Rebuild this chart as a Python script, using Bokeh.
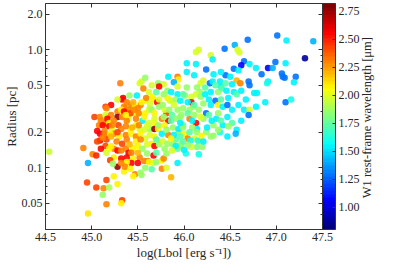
import math
from bokeh.plotting import figure
from bokeh.models import (Range1d, LinearColorMapper, ColorBar, FixedTicker, LinearAxis,
                          LogAxis, CustomJSTickFormatter, ColumnDataSource)
from bokeh.embed import file_html
from bokeh.resources import INLINE

# ---------------- data ----------------
log_lbol = [
    47.40, 47.01, 47.11, 46.69, 47.31, 46.44, 46.55, 46.58, 46.60, 46.16,
    46.13, 46.29, 46.31, 46.65, 46.62, 46.71, 46.54, 46.59, 46.57, 46.61,
    46.70, 46.71, 46.45, 46.40, 46.32, 46.24, 46.13, 46.03, 46.03, 46.11,
    46.21, 46.18, 46.28, 46.31, 46.39, 46.40, 46.52, 46.14, 46.17, 46.13,
    46.08, 46.18, 46.23, 46.29, 46.37, 46.41, 46.34, 46.37, 46.42, 46.47,
    46.52, 46.59, 46.65, 46.71, 46.67, 46.76, 46.70, 46.24, 46.29, 46.21,
    46.10, 46.03, 46.01, 46.08, 46.06, 46.13, 46.06, 46.16, 46.35, 46.42,
    46.57, 46.32, 46.21, 46.14, 46.99, 47.10, 46.91, 46.96, 46.78, 46.84,
    47.06, 47.07, 47.09, 47.21, 47.19, 46.91, 46.90, 46.79, 46.88, 47.10,
    47.16, 46.78, 46.54, 46.47, 46.56, 46.11, 46.16, 46.20, 46.14, 46.16,
    46.29, 46.32, 46.39, 46.01, 46.04, 46.07, 46.15, 46.08, 46.02, 46.14,
    46.24, 46.27, 46.37, 46.47, 46.52, 46.62, 46.40, 46.48, 46.57, 46.62,
    46.45, 46.50, 46.23, 45.96, 45.99, 46.09, 46.25, 46.37, 46.19, 45.94,
    45.91, 45.97, 45.31, 45.33, 45.21, 45.15, 45.16, 45.03, 45.09, 45.28,
    45.37, 45.42, 45.45, 45.53, 45.58, 45.67, 45.71, 45.84, 45.93, 45.52,
    45.54, 45.56, 45.58, 45.65, 45.72, 45.78, 45.83, 45.93, 45.94, 45.89,
    45.63, 45.81, 45.73, 45.50, 45.17, 45.40, 45.73, 45.82, 45.86, 45.93,
    45.34, 45.28, 45.41, 45.49, 45.59, 45.66, 45.73, 45.82, 45.85,
    45.91, 45.96, 45.54, 45.35, 45.43, 45.47, 45.50, 45.40, 45.32, 45.35,
    45.28, 45.33, 45.42, 45.46, 45.51, 45.58, 45.62, 45.65, 45.68, 45.79,
    45.84, 45.87, 45.93, 45.99, 45.97, 45.92, 45.76, 45.83, 45.79, 45.55,
    45.62, 45.68, 45.38, 45.48, 45.29, 45.32, 45.42, 45.52, 45.57, 45.63,
    45.68, 45.72, 45.88, 45.94, 45.99, 45.15, 45.21, 45.10, 45.14, 45.17,
    45.08, 45.12, 45.19, 45.19, 45.06, 45.14, 45.22, 45.24, 45.30, 45.37,
    45.43, 45.48, 45.53, 45.58, 45.63, 45.68, 45.76, 45.83, 45.89, 45.96,
    45.24, 45.28, 45.32, 45.37, 45.40, 45.45, 45.50, 45.55, 45.60, 45.65,
    45.68, 45.73, 45.79, 45.88, 45.93, 45.96, 46.00, 45.24, 45.32, 45.38,
    45.45, 45.52, 45.57, 45.61, 45.50, 45.67, 45.70, 45.76, 45.93, 45.28,
    45.35, 45.47, 45.53, 45.54, 45.76, 45.86, 45.24, 45.33, 45.32, 45.09,
    45.14, 45.17, 45.20, 45.16, 45.09, 45.15, 45.21, 45.19, 45.10, 45.16,
    45.20, 45.23, 44.91, 45.01, 45.05, 44.96, 44.95, 45.05, 45.13, 45.19,
    45.16, 45.12, 45.16, 44.96, 44.54, 45.28, 45.43, 45.38, 45.36,
    45.62, 45.67, 45.78, 45.81, 45.45, 45.27, 45.33, 45.38, 45.41,
    45.48, 45.53, 45.70, 45.77, 45.82, 45.86, 45.91, 45.99, 46.04, 45.70,
    45.81, 45.87, 45.60, 45.50, 45.43, 45.32, 45.42, 45.58, 45.65, 45.28,
    45.37, 45.44, 45.51, 45.60, 45.72, 45.81, 45.86, 45.78, 45.68, 45.57,
    45.48, 45.37, 45.24, 45.21, 45.12, 45.06, 45.22, 45.70, 45.62, 45.78,
    45.99, 46.04, 46.11, 46.11, 46.18, 46.30, 46.40, 46.48, 46.04, 45.89,
    45.77, 45.45, 45.38, 45.63, 45.96, 46.06, 46.21, 46.09, 46.46, 46.34, 46.27,
]

radius_pc = [
    1.18, 1.32, 1.20, 1.22, 0.85, 1.02, 1.10, 1.00, 0.95, 1.00,
    0.96, 0.90, 0.83, 0.80, 0.74, 0.76, 0.69, 0.67, 0.55, 0.52,
    0.54, 0.50, 0.61, 0.65, 0.62, 0.68, 0.76, 0.77, 0.65, 0.61,
    0.55, 0.52, 0.52, 0.54, 0.54, 0.49, 0.51, 0.48, 0.44, 0.42,
    0.40, 0.40, 0.42, 0.44, 0.44, 0.47, 0.37, 0.34, 0.33, 0.34,
    0.31, 0.34, 0.31, 0.31, 0.38, 0.43, 0.28, 0.29, 0.34, 0.35,
    0.33, 0.48, 0.41, 0.36, 0.26, 0.24, 0.31, 0.31, 0.26, 0.23,
    0.21, 0.23, 0.26, 0.213, 0.79, 0.77, 0.70, 0.70, 0.70, 0.62,
    0.63, 0.59, 0.58, 0.59, 0.53, 0.54, 0.52, 0.43, 0.36, 0.36,
    0.38, 0.33, 0.44, 0.184, 0.194, 0.177, 0.167, 0.15, 0.15, 0.13,
    0.184, 0.187, 0.20, 0.194, 0.177, 0.17, 0.17, 0.15, 0.132, 0.20,
    0.20, 0.28, 0.29, 0.27, 0.24, 0.25, 0.38, 0.39, 0.42, 0.45,
    0.52, 0.59, 0.48, 0.27, 0.23, 0.22, 0.22, 0.21, 0.187, 0.20,
    0.174, 0.16, 0.52, 0.38, 0.34, 0.33, 0.32, 0.27, 0.27, 0.30,
    0.32, 0.33, 0.29, 0.34, 0.37, 0.38, 0.36, 0.38, 0.42, 0.52,
    0.54, 0.47, 0.58, 0.50, 0.52, 0.51, 0.59, 0.59, 0.56, 0.53,
    0.32, 0.29, 0.33, 0.29, 0.27, 0.26, 0.49, 0.45, 0.44, 0.49,
    0.39, 0.38, 0.41, 0.41, 0.39, 0.40, 0.38, 0.39, 0.37,
    0.38, 0.37, 0.36, 0.33, 0.34, 0.33, 0.32, 0.31, 0.31, 0.30,
    0.27, 0.27, 0.29, 0.31, 0.29, 0.29, 0.31, 0.31, 0.29, 0.31,
    0.31, 0.28, 0.31, 0.32, 0.28, 0.26, 0.26, 0.25, 0.23, 0.25,
    0.24, 0.24, 0.25, 0.23, 0.23, 0.213, 0.213, 0.213, 0.21, 0.213,
    0.213, 0.213, 0.22, 0.213, 0.22, 0.28, 0.28, 0.25, 0.24, 0.26,
    0.23, 0.23, 0.24, 0.225, 0.205, 0.205, 0.21, 0.194, 0.184, 0.19,
    0.194, 0.184, 0.194, 0.177, 0.19, 0.184, 0.194, 0.19, 0.19, 0.184,
    0.145, 0.14, 0.14, 0.145, 0.134, 0.147, 0.153, 0.145, 0.158, 0.16,
    0.153, 0.158, 0.145, 0.158, 0.145, 0.153, 0.142, 0.122, 0.12, 0.122,
    0.12, 0.122, 0.114, 0.114, 0.11, 0.11, 0.112, 0.116, 0.11, 0.102,
    0.093, 0.088, 0.091, 0.087, 0.098, 0.083, 0.085, 0.053, 0.050, 0.194,
    0.194, 0.19, 0.194, 0.174, 0.17, 0.153, 0.153, 0.145, 0.145, 0.134,
    0.116, 0.108, 0.147, 0.13, 0.127, 0.11, 0.075, 0.068, 0.067, 0.068,
    0.079, 0.059, 0.049, 0.041, 0.137, 0.073, 0.11, 0.112, 0.102,
    0.112, 0.127, 0.12, 0.10, 0.085, 0.167, 0.16, 0.174, 0.158,
    0.167, 0.174, 0.174, 0.167, 0.16, 0.177, 0.153, 0.167, 0.156, 0.134,
    0.132, 0.14, 0.132, 0.134, 0.134, 0.11, 0.098, 0.10, 0.097, 0.20,
    0.225, 0.22, 0.23, 0.225, 0.23, 0.21, 0.25, 0.27, 0.26, 0.27,
    0.26, 0.28, 0.25, 0.184, 0.18, 0.167, 0.23, 0.44, 0.44, 0.42,
    0.42, 0.36, 0.34, 0.28, 0.27, 0.25, 0.25, 0.225, 0.29, 0.34,
    0.34, 0.36, 0.36, 0.35, 0.24, 0.20, 0.167, 0.25, 0.45, 0.50, 0.38,
]

w1_wavelength_um = [
    1.42, 1.28, 1.55, 1.28, 0.88, 1.28, 1.42, 1.97, 1.97, 1.97,
    1.97, 1.97, 1.55, 1.28, 1.08, 1.55, 1.28, 1.55, 2.20, 2.30,
    1.28, 1.28, 1.28, 1.55, 1.55, 1.28, 1.55, 1.55, 1.55, 1.55,
    1.97, 1.97, 1.28, 1.55, 1.55, 1.55, 1.55, 1.85, 1.85, 1.97,
    1.97, 1.85, 1.55, 1.55, 1.85, 1.72, 1.28, 2.08, 1.55, 1.28,
    1.55, 1.55, 1.55, 1.97, 1.55, 1.55, 1.28, 1.28, 1.55, 1.85,
    1.85, 1.85, 1.85, 2.55, 2.30, 2.55, 1.85, 1.85, 1.55, 1.55,
    1.55, 1.85, 1.85, 1.55, 1.28, 1.55, 1.08, 1.42, 1.55, 1.28,
    1.28, 1.28, 1.28, 1.28, 1.55, 1.55, 1.60, 1.55, 1.55, 1.28,
    1.60, 1.55, 1.55, 1.55, 1.42, 1.97, 1.85, 1.85, 1.80, 1.60,
    1.85, 1.85, 1.60, 2.08, 2.30, 1.60, 1.65, 1.97, 1.60, 1.85,
    1.85, 1.72, 1.85, 1.55, 1.72, 1.55, 1.72, 1.55, 1.72, 1.55,
    1.72, 1.55, 1.72, 1.85, 1.72, 1.85, 1.55, 1.85, 2.08, 1.85,
    1.72, 1.85, 2.30, 2.55, 2.55, 2.42, 2.30, 2.42, 2.30, 2.30,
    2.30, 1.85, 2.08, 2.30, 2.08, 2.08, 2.55, 1.97, 1.55, 1.97,
    1.97, 2.30, 1.85, 1.97, 1.85, 1.97, 1.55, 2.30, 2.08, 1.42,
    1.85, 2.42, 1.85, 1.97, 2.08, 1.97, 2.55, 1.85, 1.55, 1.97,
    2.55, 1.97, 1.85, 1.55, 2.30, 2.08, 1.97, 2.08, 1.97,
    1.85, 1.55, 2.08, 2.30, 2.30, 2.08, 2.30, 2.30, 2.08, 2.55,
    2.75, 2.30, 2.42, 2.30, 2.30, 2.08, 1.97, 1.85, 2.08, 1.97,
    1.85, 1.72, 1.85, 1.85, 1.85, 1.85, 2.30, 2.55, 2.08, 1.55,
    1.97, 2.08, 2.30, 2.08, 2.42, 2.30, 2.08, 1.97, 1.97, 1.85,
    2.75, 2.08, 1.85, 1.55, 1.85, 1.97, 2.30, 2.30, 2.30, 2.55,
    2.30, 2.55, 2.08, 2.55, 2.55, 2.30, 1.97, 2.30, 2.08, 2.30,
    2.08, 2.30, 2.08, 1.97, 1.97, 2.08, 1.55, 2.30, 1.55, 1.72,
    2.30, 2.55, 2.30, 2.30, 2.55, 2.08, 2.08, 1.85, 1.97, 2.08,
    2.55, 1.85, 1.85, 1.85, 1.72, 1.85, 1.55, 2.08, 2.55, 2.55,
    2.08, 2.30, 2.30, 2.30, 2.55, 1.97, 1.85, 2.08, 1.55, 2.75,
    2.08, 2.30, 1.85, 1.85, 2.30, 2.20, 2.08, 2.42, 2.08, 2.55,
    2.30, 2.30, 2.08, 2.42, 2.55, 2.42, 2.08, 2.08, 2.55, 1.97,
    2.42, 1.85, 2.30, 2.30, 2.50, 1.40, 2.42, 2.42, 2.30, 1.90,
    2.42, 1.85, 2.30, 2.12, 1.95, 2.08, 2.55, 2.08, 2.30,
    2.08, 2.55, 2.30, 1.97, 2.08, 2.30, 2.42, 2.30, 2.20,
    2.08, 2.30, 1.72, 1.97, 1.85, 2.08, 1.55, 1.72, 1.85, 1.72,
    1.85, 1.97, 1.85, 2.20, 2.30, 2.30, 2.08, 1.85, 1.72, 2.42,
    2.30, 2.20, 2.30, 1.97, 1.85, 1.85, 1.72, 1.85, 1.97, 2.08,
    2.30, 2.08, 2.30, 2.20, 2.30, 2.42, 2.30, 1.72, 1.97, 1.85,
    1.72, 1.55, 1.72, 1.85, 1.97, 1.55, 1.72, 1.85, 1.72, 1.97,
    1.85, 2.20, 2.30, 1.97, 1.55, 1.72, 1.55, 1.55, 1.55, 1.72, 1.55,
]

x_ticks = [44.5, 45.0, 45.5, 46.0, 46.5, 47.0, 47.5]
y_ticks = [0.05, 0.1, 0.2, 0.5, 1.0, 2.0]
y_minor_ticks = [0.03, 0.04, 0.06, 0.07, 0.08, 0.09, 0.3, 0.4, 0.6, 0.7, 0.8, 0.9]
cbar_ticks = [1.00, 1.25, 1.50, 1.75, 2.00, 2.25, 2.50, 2.75]
cbar_low, cbar_high = 0.8, 2.82

x_label = "log(Lbol [erg s\u207b\u00b9])"
y_label = "Radius [pc]"
cbar_label = "W1 rest-frame wavelength [\u03bcm]"

n = min(len(log_lbol), len(radius_pc), len(w1_wavelength_um))


# jet palette
def jet(xv):
    r = min(max(1.5 - abs(4 * xv - 3), 0), 1)
    g = min(max(1.5 - abs(4 * xv - 2), 0), 1)
    b = min(max(1.5 - abs(4 * xv - 1), 0), 1)
    return "#%02x%02x%02x" % (int(r * 255), int(g * 255), int(b * 255))


palette = [jet(i / 63) for i in range(64)]
mapper = LinearColorMapper(palette=palette, low=cbar_low, high=cbar_high)

FONT = "Liberation Serif"
TXT = "#262626"
LINE = "#333333"

p = figure(width=383, height=262, x_range=Range1d(44.5, 47.5), y_range=Range1d(0.03, 2.47),
           y_axis_type="log", output_backend="svg", toolbar_location=None,
           min_border_left=42, min_border_right=10, min_border_top=3, min_border_bottom=10)
p.grid.visible = False
p.outline_line_color = LINE
p.outline_line_width = 1
p.background_fill_color = "white"
p.border_fill_color = "white"

src = ColumnDataSource(dict(x=log_lbol[:n], y=radius_pc[:n], w=w1_wavelength_um[:n]))
p.scatter(x="x", y="y", source=src, size=6.5,
          fill_color={"field": "w", "transform": mapper}, line_color=None, fill_alpha=0.9)


def style_axis(ax, labels):
    ax.axis_line_color = None
    ax.major_tick_in = 4
    ax.major_tick_out = 0
    ax.minor_tick_in = 2
    ax.minor_tick_out = 0
    ax.major_tick_line_color = LINE
    ax.minor_tick_line_color = LINE
    ax.major_label_text_font = FONT
    if labels:
        ax.major_label_text_color = TXT
        ax.major_label_text_font_size = "12px"
        ax.major_label_standoff = 3
    else:
        ax.major_label_text_color = None
        ax.major_label_text_font_size = "0px"
    ax.axis_label_text_font = FONT
    ax.axis_label_text_font_size = "13px"
    ax.axis_label_text_font_style = "normal"
    ax.axis_label_text_color = TXT


xfmt = CustomJSTickFormatter(code="return tick.toFixed(1);")
yfmt = CustomJSTickFormatter(code="return tick >= 1 ? tick.toFixed(1) : String(tick);")

for ax in p.xaxis:
    ax.ticker = FixedTicker(ticks=x_ticks, minor_ticks=[])
    ax.formatter = xfmt
    style_axis(ax, True)
    ax.axis_label = x_label
    ax.axis_label_standoff = 1
for ax in p.yaxis:
    ax.ticker = FixedTicker(ticks=y_ticks, minor_ticks=y_minor_ticks)
    ax.formatter = yfmt
    style_axis(ax, True)
    ax.axis_label = y_label
    ax.axis_label_standoff = 0

# mirrored tick marks on top and right (no labels)
top = LinearAxis(ticker=FixedTicker(ticks=x_ticks, minor_ticks=[]), formatter=xfmt)
style_axis(top, False)
top.major_label_standoff = 0
p.add_layout(top, "above")
right = LogAxis(ticker=FixedTicker(ticks=y_ticks, minor_ticks=y_minor_ticks), formatter=yfmt)
style_axis(right, False)
right.major_label_standoff = 1
p.add_layout(right, "right")

cb = ColorBar(color_mapper=mapper, ticker=FixedTicker(ticks=cbar_ticks),
              formatter=CustomJSTickFormatter(code="return tick.toFixed(2);"),
              width=13, padding=0, margin=0, location=(0, 0), label_standoff=3,
              major_label_text_font=FONT, major_label_text_font_size="12px",
              major_label_text_color=TXT,
              major_tick_in=3, major_tick_out=0, major_tick_line_color=LINE,
              minor_tick_line_color=None,
              bar_line_color=LINE, bar_line_width=1, border_line_color=None,
              background_fill_alpha=0)
p.add_layout(cb, "right")

# colour bar title, as the label of a tick-less axis outside the colour bar
cbt = LinearAxis(ticker=FixedTicker(ticks=[], minor_ticks=[]),
                 axis_label="\u2003\u2003\u2002" + cbar_label)
cbt.axis_line_color = None
cbt.major_tick_line_color = None
cbt.minor_tick_line_color = None
cbt.major_label_text_font_size = "0px"
cbt.major_label_standoff = 0
cbt.axis_label_standoff = 4
cbt.axis_label_text_font = FONT
cbt.axis_label_text_font_size = "12.5px"
cbt.axis_label_text_font_style = "normal"
cbt.axis_label_text_color = TXT
try:
    cbt.axis_label_orientation = math.pi / 2
    cbt.axis_label_align = "start"
except Exception:
    pass
p.add_layout(cbt, "right")

open("out.html", "w").write(file_html(p, INLINE))
